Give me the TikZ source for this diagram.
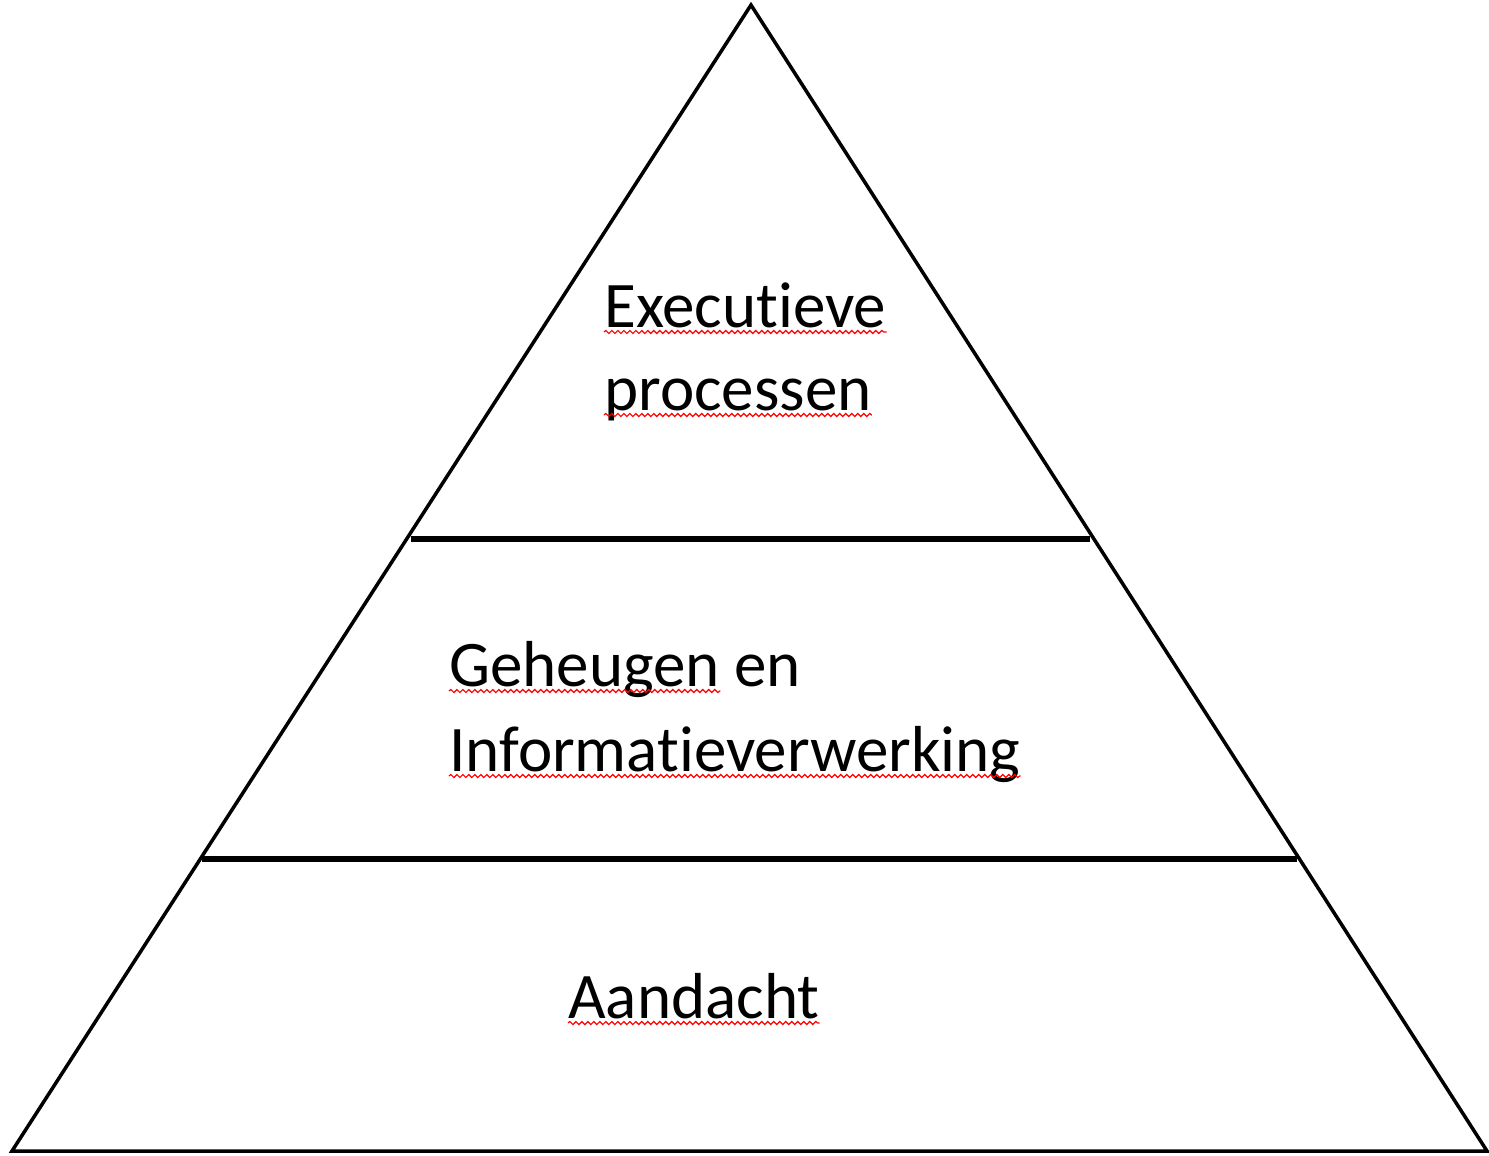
\documentclass[tikz,border=0pt]{standalone}
\usepackage{fontspec}
\setmainfont{Carlito}[Ligatures={NoCommon}]
\usepackage{tikz}
\usetikzlibrary{positioning,calc,decorations.pathmorphing}

\begin{document}
\begin{tikzpicture}[
  x=0.02cm, y=-0.02cm,
  side/.style={line width=2pt, line join=miter},
  tierline/.style={line width=3.2pt},
  word/.style={anchor=base west, inner sep=0pt, font=\fontsize{37}{46}\selectfont},
  spell/.style={red, line width=0.7pt,
    decorate, decoration={snake, segment length=0.12cm, amplitude=0.03cm}}
]
  \useasboundingbox (0,0) rectangle (1489,1156);

  % --- Pyramid outline ---
  \coordinate (top) at (751,5);
  \coordinate (bl)  at (12,1151);
  \coordinate (br)  at (1487,1151);
  \draw[side] (top) -- (br) -- (bl) -- cycle;

  % --- Tier borders ---
  \coordinate (t1l) at ($(top)!0.466!(bl)$);
  \coordinate (t1r) at ($(top)!0.466!(br)$);
  \coordinate (t2l) at ($(top)!0.745!(bl)$);
  \coordinate (t2r) at ($(top)!0.745!(br)$);
  \draw[tierline] ([xshift=0.08cm]t1l) -- ([xshift=-0.08cm]t1r);
  \draw[tierline] ([xshift=0.04cm]t2l) -- ([xshift=-0.04cm]t2r);

  % --- Tier labels ---
  \node[word] (exe)  at (604,327)  {Executieve};
  \node[word] (proc) at (604,410)  {processen};
  \node[word] (geh)  at (449,686)  {Geheugen};
  \node[word, right=0.27cm of geh.base east, anchor=base west] (en) {en};
  \node[word] (info) at (449,771)  {Informatieverwerking};
  \node[word] (aand) at (568,1018) {Aandacht};

  % --- Spelling marks ---
  \foreach \w in {exe,proc,geh,info,aand}
    \draw[spell] ([yshift=-0.1cm]\w.base west) -- ([yshift=-0.1cm]\w.base east);
\end{tikzpicture}
\end{document}
